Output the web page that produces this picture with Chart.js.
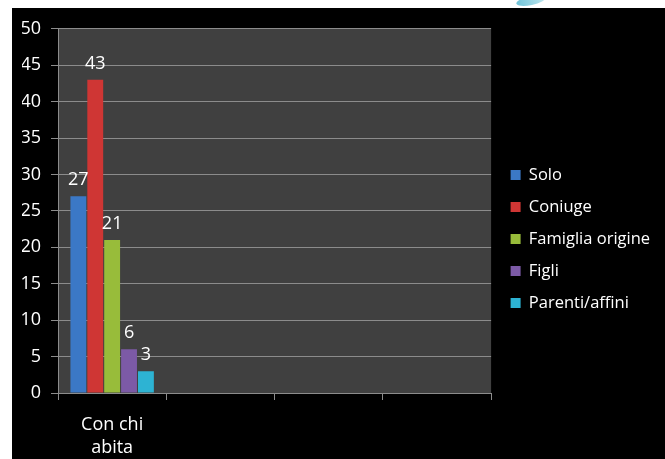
<!DOCTYPE html>
<html>
<head>
<meta charset="utf-8">
<script src="https://cdn.jsdelivr.net/npm/chart.js@4"></script>
<style>
  html, body { margin: 0; padding: 0; background: #ffffff; }
  body { width: 665px; height: 459px; position: relative; overflow: hidden; }
  #wrap { position: absolute; left: 12px; top: 8px; width: 653px; height: 451px; background: #000000; }
  #swoosh { position: absolute; left: 516px; top: -4px; width: 30px; height: 9px; border-radius: 50%;
            background: linear-gradient(90deg, #6fc3d8, #bfe6ee); transform: rotate(-12deg); }
</style>
</head>
<body>
<div id="swoosh"></div>
<div id="wrap"><canvas id="c" width="653" height="451"></canvas></div>
<script>
const categories = [["Con chi", "abita"], "", "", ""];
const seriesNames = ["Solo", "Coniuge", "Famiglia origine", "Figli", "Parenti/affini"];
const solo = [27, null, null, null];
const coniuge = [43, null, null, null];
const famigliaOrigine = [21, null, null, null];
const figli = [6, null, null, null];
const parentiAffini = [3, null, null, null];
const yTicks = [0, 5, 10, 15, 20, 25, 30, 35, 40, 45, 50];

const colors = ["#3b78c6", "#cf3634", "#98bc3a", "#7c5aa6", "#2db3d3"];
const seriesData = [solo, coniuge, famigliaOrigine, figli, parentiAffini];

const FONT = "'Open Sans', sans-serif";
const LEGEND_SIZE = 16.5;

const mctx = document.createElement('canvas').getContext('2d');
mctx.font = LEGEND_SIZE + "px " + FONT;
const maxLegendW = Math.max(...seriesNames.map(s => mctx.measureText(s).width));
const PLOT_RIGHT = 486;
const LEGEND_SHIFT = 4;
const legendWidth = 10 + LEGEND_SIZE / 2 + maxLegendW + 10;
const padRight = Math.max(0, 653 - (PLOT_RIGHT + legendWidth));

const plotBg = {
  id: 'plotBg',
  beforeDraw(chart) {
    const a = chart.chartArea, ctx = chart.ctx;
    ctx.save();
    ctx.fillStyle = '#404040';
    ctx.fillRect(a.left, a.top, a.right - a.left, a.bottom - a.top);
    ctx.restore();
  }
};

const valueLabels = {
  id: 'valueLabels',
  afterDatasetsDraw(chart) {
    const ctx = chart.ctx;
    ctx.save();
    ctx.fillStyle = '#ffffff';
    ctx.font = "18px " + FONT;
    ctx.textAlign = 'center';
    ctx.textBaseline = 'middle';
    chart.data.datasets.forEach((ds, i) => {
      const meta = chart.getDatasetMeta(i);
      meta.data.forEach((el, j) => {
        const v = ds.data[j];
        if (v === null || v === undefined) return;
        ctx.fillText(String(v), el.x, el.y - 16);
      });
    });
    ctx.restore();
  }
};

const legendShift = {
  id: 'legendShift',
  afterLayout(chart) {
    const lg = chart.legend;
    if (!lg) return;
    lg.left += LEGEND_SHIFT; lg.right += LEGEND_SHIFT;
  }
};

new Chart(document.getElementById('c'), {
  type: 'bar',
  data: {
    labels: categories,
    datasets: seriesNames.map((name, i) => ({
      label: name,
      data: seriesData[i],
      backgroundColor: colors[i],
      borderWidth: 0,
      barPercentage: 0.94,
      categoryPercentage: 0.78
    }))
  },
  options: {
    responsive: false,
    animation: false,
    devicePixelRatio: 1,
    layout: { padding: { left: 10, right: padRight, top: 11, bottom: 0 } },
    plugins: {
      tooltip: { enabled: false },
      legend: {
        position: 'right',
        align: 'center',
        labels: {
          color: '#ffffff',
          boxWidth: 10,
          boxHeight: 10,
          padding: 15.5,
          font: { family: FONT, size: LEGEND_SIZE }
        }
      }
    },
    scales: {
      x: {
        afterFit(scale) { scale.height = 66; },
        grid: { display: true, drawOnChartArea: false, drawTicks: true, tickLength: 7, color: '#8c8c8c', offset: true },
        border: { display: true, color: '#8c8c8c', width: 1 },
        ticks: { color: '#ffffff', padding: 13, maxRotation: 0, autoSkip: false, font: { family: FONT, size: 18, lineHeight: 1.3 } }
      },
      y: {
        min: 0, max: 50,
        afterFit(scale) { scale.width = 36; },
        afterBuildTicks(scale) { scale.ticks = yTicks.map(v => ({ value: v })); },
        grid: { color: '#8c8c8c', tickLength: 7, lineWidth: 1 },
        border: { display: true, color: '#8c8c8c', width: 1 },
        ticks: { color: '#ffffff', padding: 10, font: { family: FONT, size: 18 } }
      }
    }
  },
  plugins: [plotBg, valueLabels, legendShift]
});
</script>
</body>
</html>
